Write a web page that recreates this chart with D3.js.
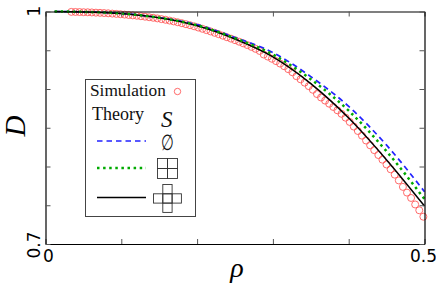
<!DOCTYPE html>
<html>
<head>
<meta charset="utf-8">
<script src="https://cdn.jsdelivr.net/npm/d3@7"></script>
<style>
  html, body { margin: 0; padding: 0; background: #fff; overflow: hidden; }
  .serif { font-family: "Liberation Serif", serif; }
  .tick-label { font-family: "DejaVu Sans", sans-serif; font-size: 17px; fill: #000; }
</style>
</head>
<body>
<svg width="436" height="291"></svg>
<script>
const xTicks = [0, 0.1, 0.2, 0.3, 0.4, 0.5];
const yTicks = [0.7, 0.75, 0.8, 0.85, 0.9, 0.95, 1];

// theory curves
const theoryRho = [0.012, 0.05, 0.1, 0.15, 0.2, 0.25, 0.3, 0.35, 0.4, 0.45, 0.5];
const emptyD = [1, 0.9995, 0.9976, 0.992, 0.983, 0.9665, 0.947, 0.916, 0.8775, 0.8275, 0.7675];
const squareD = [1, 0.9995, 0.9975, 0.9919, 0.9822, 0.9655, 0.9445, 0.9125, 0.872, 0.8195, 0.758];
const crossD = [1, 0.9995, 0.9974, 0.9918, 0.9815, 0.9645, 0.9415, 0.907, 0.8625, 0.8085, 0.749];

const simRho = [
  0.0341, 0.0395, 0.0449, 0.0503, 0.0557, 0.0611, 0.0665, 0.0719, 0.0773, 0.0827,
  0.0881, 0.0935, 0.0989, 0.1043, 0.1097, 0.1151, 0.1205, 0.1259, 0.1313, 0.1367,
  0.1421, 0.1475, 0.1529, 0.1583, 0.1637, 0.1691, 0.1745, 0.1799, 0.1853, 0.1907,
  0.1961, 0.2015, 0.2069, 0.2123, 0.2177, 0.2231, 0.2285, 0.2339, 0.2393, 0.2447,
  0.2501, 0.2555, 0.2609, 0.2663, 0.2717, 0.2771, 0.2825, 0.2879, 0.2933, 0.2987,
  0.3041, 0.3095, 0.3149, 0.3203, 0.3257, 0.3311, 0.3365, 0.3419, 0.3473, 0.3527,
  0.3581, 0.3635, 0.3689, 0.3743, 0.3797, 0.3851, 0.3905, 0.3959, 0.4013, 0.4067,
  0.4121, 0.4175, 0.4229, 0.4283, 0.4337, 0.4391, 0.4445, 0.4499, 0.4553, 0.4607,
  0.4661, 0.4715, 0.4769, 0.4823, 0.4877, 0.4931, 0.4985
];
const simD = [
  0.9995, 0.9994, 0.9993, 0.9991, 0.999, 0.9988, 0.9985, 0.9983, 0.998, 0.9977,
  0.9973, 0.9969, 0.9965, 0.996, 0.9955, 0.995, 0.9945, 0.9939, 0.9933, 0.9926,
  0.9919, 0.9911, 0.9902, 0.9893, 0.9883, 0.9872, 0.9861, 0.9849, 0.9836, 0.9823,
  0.9809, 0.9793, 0.9777, 0.976, 0.9743, 0.9725, 0.9707, 0.9688, 0.9668, 0.965,
  0.963, 0.961, 0.9589, 0.9567, 0.9543, 0.9518, 0.9491, 0.9445, 0.9418, 0.939,
  0.936, 0.9328, 0.9294, 0.9256, 0.9216, 0.9165, 0.9125, 0.9082, 0.9037, 0.899,
  0.8935, 0.889, 0.885, 0.881, 0.8768, 0.8725, 0.868, 0.863, 0.8575, 0.8515,
  0.8458, 0.8398, 0.8335, 0.8273, 0.8211, 0.8148, 0.8088, 0.8026, 0.7964, 0.7895,
  0.782, 0.7737, 0.7663, 0.7594, 0.751, 0.7435, 0.7352
];

const margins = { top: 11.5, right: 11.5, bottom: 47, left: 45.5 };
const svg = d3.select('svg');
const svgWidth = +svg.attr('width');
const svgHeight = +svg.attr('height');
const chartWidth = svgWidth - margins.left - margins.right;
const chartHeight = svgHeight - margins.top - margins.bottom;

const xScale = d3.scaleLinear().domain([0, 0.5]).range([0, chartWidth]);
const yScale = d3.scaleLinear().domain([0.7, 1]).range([chartHeight, 0]);

const chart = svg.append('g')
  .attr('transform', `translate(${margins.left}, ${margins.top})`);

// simulation circles go under the curves
chart.append('g').selectAll('circle')
  .data(simRho)
  .enter()
  .append('circle')
    .attr('cx', d => xScale(d))
    .attr('cy', (d, i) => yScale(simD[i]))
    .attr('r', 3.5)
    .attr('fill', 'none')
    .attr('stroke', '#ff5a5a')
    .attr('stroke-width', 0.9);

const lineFor = values => d3.line()
  .x(d => xScale(d))
  .y((d, i) => yScale(values[i]))
  .curve(d3.curveMonotoneX)(theoryRho);

const blueStyle = { stroke: '#2222ff', width: 1.7, dash: '5.5 4' };
const greenStyle = { stroke: '#00aa00', width: 2.5, dash: '2.5 3.6' };
const blackStyle = { stroke: '#000', width: 1.5, dash: null };

const drawCurve = (values, style) => chart.append('path')
  .attr('d', lineFor(values))
  .attr('fill', 'none')
  .attr('stroke', style.stroke)
  .attr('stroke-width', style.width)
  .attr('stroke-dasharray', style.dash);

drawCurve(emptyD, blueStyle);
drawCurve(crossD, blackStyle);
drawCurve(squareD, greenStyle);

// axes, ticks point inward on all four sides
const styleAxis = g => {
  g.selectAll('path.domain').attr('stroke', '#000').attr('stroke-width', 1.2);
  g.selectAll('.tick line').attr('stroke', '#555').attr('stroke-width', 1);
};
const addAxis = (axis, dx, dy) => chart.append('g')
  .attr('transform', `translate(${dx}, ${dy})`)
  .call(axis.tickSizeOuter(0).tickFormat(''))
  .call(styleAxis);

addAxis(d3.axisBottom(xScale).tickValues(xTicks).tickSizeInner(-5), 0, chartHeight);
addAxis(d3.axisTop(xScale).tickValues(xTicks).tickSizeInner(-5), 0, 0);
addAxis(d3.axisLeft(yScale).tickValues(yTicks).tickSizeInner(-5), 0, 0);
addAxis(d3.axisRight(yScale).tickValues(yTicks).tickSizeInner(-5), chartWidth, 0);

// tick labels, only the ends are labelled
chart.append('text').attr('class', 'tick-label')
  .attr('x', xScale(0) + 3).attr('y', chartHeight + 18)
  .attr('text-anchor', 'middle').text('0');
chart.append('text').attr('class', 'tick-label')
  .attr('x', xScale(0.5) - 1).attr('y', chartHeight + 18)
  .attr('text-anchor', 'middle').text('0.5');
svg.append('text').attr('class', 'tick-label')
  .attr('transform', `translate(40, ${margins.top + yScale(1) - 0.5}) rotate(-90)`)
  .attr('text-anchor', 'middle').text('1');
svg.append('text').attr('class', 'tick-label')
  .attr('transform', `translate(40, ${margins.top + yScale(0.7) + 1}) rotate(-90)`)
  .attr('text-anchor', 'middle').text('0.7');

// axis titles
svg.append('text').attr('class', 'serif')
  .attr('x', 237).attr('y', 277)
  .attr('text-anchor', 'middle')
  .attr('font-size', 28).attr('font-style', 'italic')
  .text('ρ');
svg.append('text').attr('class', 'serif')
  .attr('transform', 'translate(25, 126) rotate(-90)')
  .attr('text-anchor', 'middle')
  .attr('font-size', 29).attr('font-style', 'italic')
  .text('D');

// legend
const legend = svg.append('g');
legend.append('rect')
  .attr('x', 85.5).attr('y', 79.5)
  .attr('width', 110).attr('height', 137)
  .attr('fill', '#fff')
  .attr('stroke', '#444').attr('stroke-width', 1);

const legendText = (text, x, y, size, italic) => legend.append('text')
  .attr('class', 'serif')
  .attr('x', x).attr('y', y)
  .attr('font-size', size)
  .attr('font-style', italic ? 'italic' : 'normal')
  .attr('fill', '#111')
  .text(text);

legendText('Simulation', 90, 96, 17.3);
legendText('Theory', 92, 119.5, 18);
legendText('S', 161, 127, 23, true);
legend.append('text')
  .attr('transform', 'translate(167, 150) scale(0.8, 1.2)')
  .attr('text-anchor', 'middle')
  .attr('font-family', '"DejaVu Serif", serif')
  .attr('font-size', 18)
  .attr('fill', '#111')
  .text('∅');

legend.append('circle')
  .attr('cx', 177.5).attr('cy', 91.5).attr('r', 3.2)
  .attr('fill', 'none').attr('stroke', '#ff5a5a').attr('stroke-width', 0.9);

const legendLine = (y, style) => legend.append('line')
  .attr('x1', 97).attr('x2', 146).attr('y1', y).attr('y2', y)
  .attr('stroke', style.stroke)
  .attr('stroke-width', style.width)
  .attr('stroke-dasharray', style.dash);

legendLine(141, blueStyle);
legendLine(168, greenStyle);
legendLine(197.5, blackStyle);

// lattice shapes, cells as [col, row]
const squareCells = [[0, 0], [1, 0], [0, 1], [1, 1]];
const crossCells = [[1, 0], [0, 1], [1, 1], [2, 1], [1, 2]];
const drawCells = (cells, x0, y0, size) => legend.append('g')
  .selectAll('rect')
  .data(cells)
  .enter()
  .append('rect')
    .attr('x', d => x0 + d[0] * size)
    .attr('y', d => y0 + d[1] * size)
    .attr('width', size)
    .attr('height', size)
    .attr('fill', 'none')
    .attr('stroke', '#333')
    .attr('stroke-width', 0.9);

drawCells(squareCells, 157.5, 158.5, 10);
drawCells(crossCells, 153.5, 184.5, 9.3);
</script>
</body>
</html>
